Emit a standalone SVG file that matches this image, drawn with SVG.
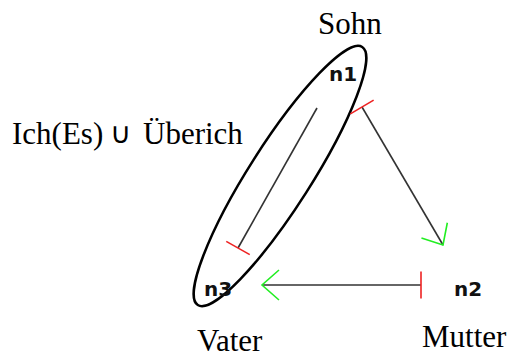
<svg xmlns="http://www.w3.org/2000/svg" width="512" height="358" viewBox="0 0 512 358">
<style>
.lbl{font-family:"Liberation Serif","DejaVu Serif",serif;font-size:31px;fill:#000}
.cup{font-family:"DejaVu Sans","Liberation Serif",serif;font-size:29px;font-weight:normal}
.nid{font-family:"DejaVu Sans","Liberation Sans",sans-serif;font-weight:bold;font-size:20px;fill:#111}
.edge{stroke:#333;stroke-width:1.6;fill:none}
</style>
<defs>
<marker id="arrow" markerUnits="userSpaceOnUse" markerWidth="40" markerHeight="40" refX="0" refY="0" orient="auto" overflow="visible">
<path d="M-17,-15 L0,0 L-17,15" fill="none" stroke="#22ee22" stroke-width="1.6"/>
</marker>
<marker id="tbar" markerUnits="userSpaceOnUse" markerWidth="40" markerHeight="40" refX="0" refY="0" orient="auto" overflow="visible">
<path d="M0,-13.5 L0,13.5" fill="none" stroke="#ee2222" stroke-width="1.6"/>
</marker>
</defs>
<rect width="512" height="358" fill="#fff"/>
<g id="group-ellipse">
<ellipse cx="280" cy="176" rx="153" ry="31" transform="rotate(-57.5 280 176)" fill="none" stroke="#000" stroke-width="2.5"/>
</g>
<g id="connectors">
<line class="edge" x1="362" y1="107" x2="443" y2="245" marker-start="url(#tbar)" marker-end="url(#arrow)"/>
<line class="edge" x1="421" y1="285" x2="262" y2="285" marker-start="url(#tbar)" marker-end="url(#arrow)"/>
<line class="edge" x1="317" y1="108" x2="238" y2="248" marker-end="url(#tbar)"/>
</g>
<g id="n1">
<text class="nid" x="329" y="81">n1</text>
<text class="lbl" x="318" y="34">Sohn</text>
</g>
<g id="n2">
<text class="nid" x="454" y="296">n2</text>
<text class="lbl" x="422" y="347">Mutter</text>
</g>
<g id="n3">
<text class="nid" x="204" y="296">n3</text>
<text class="lbl" x="197" y="351">Vater</text>
</g>
<g id="label-set">
<text class="lbl" x="12" y="144">Ich(Es)<tspan class="cup" x="110" y="143">∪</tspan><tspan x="143" y="144">Überich</tspan></text>
</g>
</svg>
